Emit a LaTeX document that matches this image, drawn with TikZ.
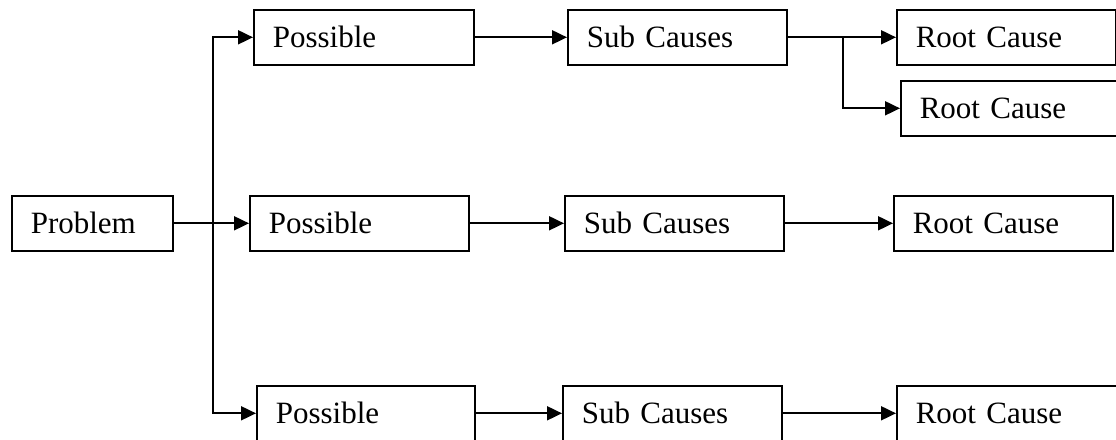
\documentclass[tikz,border=0pt]{standalone}
\usepackage{fontspec}
\setmainfont{Liberation Serif}
\usetikzlibrary{arrows.meta}

\tikzset{
  box/.style={draw, line width=1.6pt, anchor=north west, align=left,
    text width=#1-38pt, inner xsep=19pt, inner ysep=0pt, minimum height=55pt,
    font=\fontsize{31pt}{37pt}\selectfont},
  arr/.style={line width=1.9pt, -{Triangle[length=15pt,width=14pt]}}
}

\begin{document}
\begin{tikzpicture}[x=1pt,y=-1pt]
  \useasboundingbox (0,0) rectangle (1116,439);
  \clip (0,0) rectangle (1116,439);

  % problem
  \node[box=161pt] (prob) at (11,195) {Problem};

  % first column: possible causes
  \node[box=220pt] (p1) at (253,9)   {Possible};
  \node[box=219pt] (p2) at (249,195) {Possible};
  \node[box=218pt] (p3) at (256,385) {Possible};

  % second column: sub causes
  \node[box=219pt] (s1) at (567,9)   {Sub Causes};
  \node[box=219pt] (s2) at (564,195) {Sub Causes};
  \node[box=219pt] (s3) at (562,385) {Sub Causes};

  % third column: root causes
  \node[box=219pt] (r1) at (896,9)   {Root Cause};
  \node[box=220pt] (r2) at (900,80)  {Root Cause};
  \node[box=219pt] (r3) at (893,195) {Root Cause};
  \node[box=224pt] (r4) at (896,385) {Root Cause};

  % trunk from the problem to the possible causes
  \coordinate (trunk) at (213,223);
  \draw[arr] (prob.east) -- (p2.west);
  \draw[arr] (trunk) |- (p1.west);
  \draw[arr] (trunk) |- (p3.west);

  % possible -> sub causes
  \draw[arr] (p1.east) -- (s1.west);
  \draw[arr] (p2.east) -- (s2.west);
  \draw[arr] (p3.east) -- (s3.west);

  % sub causes -> root causes
  \coordinate (fork) at (843,36.5);
  \draw[arr] (s1.east) -- (r1.west);
  \draw[arr] (fork) |- (r2.west);
  \draw[arr] (s2.east) -- (r3.west);
  \draw[arr] (s3.east) -- (r4.west);
\end{tikzpicture}
\end{document}
